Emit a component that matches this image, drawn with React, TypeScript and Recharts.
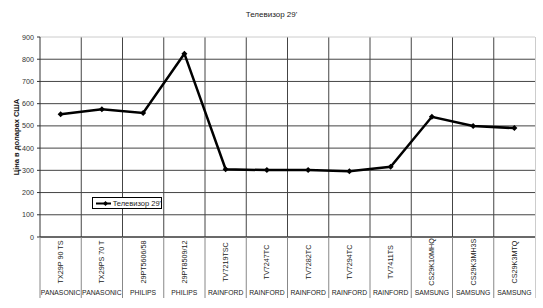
import { LineChart, Line, XAxis, YAxis, CartesianGrid } from "recharts";

const models = [
  "TX29P 90 TS",
  "TX29PS 70 T",
  "29PT5606/58",
  "29PT8509/12",
  "TV7219TSC",
  "TV7247TC",
  "TV7282TC",
  "TV7294TC",
  "TV7411TS",
  "CS29K10MHQ",
  "CS29K3MH3S",
  "CS29K3MTQ",
];
const brands = [
  "PANASONIC",
  "PANASONIC",
  "PHILIPS",
  "PHILIPS",
  "RAINFORD",
  "RAINFORD",
  "RAINFORD",
  "RAINFORD",
  "RAINFORD",
  "SAMSUNG",
  "SAMSUNG",
  "SAMSUNG",
];
const prices = [552, 575, 558, 825, 305, 301, 301, 296, 316, 541, 500, 490];
const yTicks = [0, 100, 200, 300, 400, 500, 600, 700, 800, 900];

const seriesName = "Телевизор 29'";
const data = models.map((m, i) => ({ model: m, brand: brands[i], price: prices[i] }));

const W = 543;
const H = 308;
const LEFT = 40;
const RIGHT = 8;
const TOP = 37;
const PLOT_BOTTOM = 237;
const LINE_BOTTOM = 298;
const step = (W - LEFT - RIGHT) / models.length;
const font = "Arial, 'Liberation Sans', sans-serif";

const ModelTick = (props: any) => {
  const { x, payload, index } = props;
  const left = x - step / 2;
  return (
    <g>
      <line x1={left} y1={PLOT_BOTTOM} x2={left} y2={LINE_BOTTOM} stroke="#888" strokeWidth={1} />
      <text
        x={x}
        y={262}
        transform={`rotate(-90 ${x} 262)`}
        textAnchor="middle"
        dominantBaseline="central"
        fontSize={7.2}
        fontFamily={font}
        fill="#222"
      >
        {payload.value}
      </text>
      <text x={x} y={295} textAnchor="middle" fontSize={6.8} fontFamily={font} fill="#222">
        {brands[index]}
      </text>
    </g>
  );
};

const Diamond = (props: any) => {
  const { cx, cy } = props;
  if (cx == null || cy == null) return null;
  return <path d={`M${cx},${cy - 3}L${cx + 3},${cy}L${cx},${cy + 3}L${cx - 3},${cy}Z`} fill="#000" />;
};

export default function App() {
  return (
    <div style={{ position: "absolute", left: 0, top: 0, width: W, height: H, background: "#fff" }}>
      <div
        style={{
          position: "absolute",
          top: 10,
          left: 0,
          width: W,
          textAlign: "center",
          fontFamily: font,
          fontSize: 8,
          color: "#222",
        }}
      >
        {seriesName}
      </div>
      <LineChart
        width={W}
        height={H}
        data={data}
        margin={{ top: TOP, right: RIGHT, bottom: 0, left: 0 }}
      >
        <CartesianGrid
          stroke="#444"
          horizontalCoordinatesGenerator={({ offset }: any) =>
            yTicks.slice(0, -1).map((t) => offset.top + offset.height - (t / 900) * offset.height)
          }
          verticalCoordinatesGenerator={({ offset }: any) =>
            models.slice(1).map((_, i) => offset.left + (i + 1) * (offset.width / models.length))
          }
        />
        <CartesianGrid
          vertical={false}
          stroke="#ccc"
          horizontalCoordinatesGenerator={({ offset }: any) => [offset.top]}
        />
        <XAxis
          dataKey="model"
          scale="band"
          interval={0}
          height={H - PLOT_BOTTOM}
          tick={<ModelTick />}
          tickLine={false}
          axisLine={{ stroke: "#333" }}
        />
        <YAxis
          width={LEFT}
          domain={[0, 900]}
          ticks={yTicks}
          interval={0}
          tick={{ fontSize: 7.2, fontFamily: font, fill: "#333" }}
          tickSize={3}
          tickMargin={3}
          tickLine={{ stroke: "#333" }}
          axisLine={{ stroke: "#333" }}
          label={{
            value: "Ціна в доларах США",
            angle: -90,
            position: "insideLeft",
            offset: 16,
            style: { fontSize: 7.5, fontFamily: font, fontWeight: "bold", fill: "#111", textAnchor: "middle" },
          }}
        />
        <Line
          type="linear"
          dataKey="price"
          name={seriesName}
          stroke="#000"
          strokeWidth={2.5}
          dot={<Diamond />}
          activeDot={false}
          isAnimationActive={false}
        />
      </LineChart>
      <div
        style={{
          position: "absolute",
          left: W - RIGHT,
          top: TOP,
          width: 1,
          height: LINE_BOTTOM - TOP,
          background: "#ccc",
        }}
      />
      <div
        style={{
          position: "absolute",
          left: 92,
          top: 197,
          border: "1px solid #000",
          background: "#fff",
          width: 70,
          height: 12,
          display: "flex",
          alignItems: "center",
          fontFamily: font,
          fontSize: 7.5,
          color: "#222",
          boxSizing: "border-box",
        }}
      >
        <svg width={20} height={9} style={{ marginLeft: 3 }}>
          <line x1={0} y1={4.5} x2={19} y2={4.5} stroke="#000" strokeWidth={2} />
          <path d="M9.5,2L12,4.5L9.5,7L7,4.5Z" fill="#000" />
        </svg>
        <span style={{ marginLeft: 2, whiteSpace: "nowrap" }}>{seriesName}</span>
      </div>
    </div>
  );
}
